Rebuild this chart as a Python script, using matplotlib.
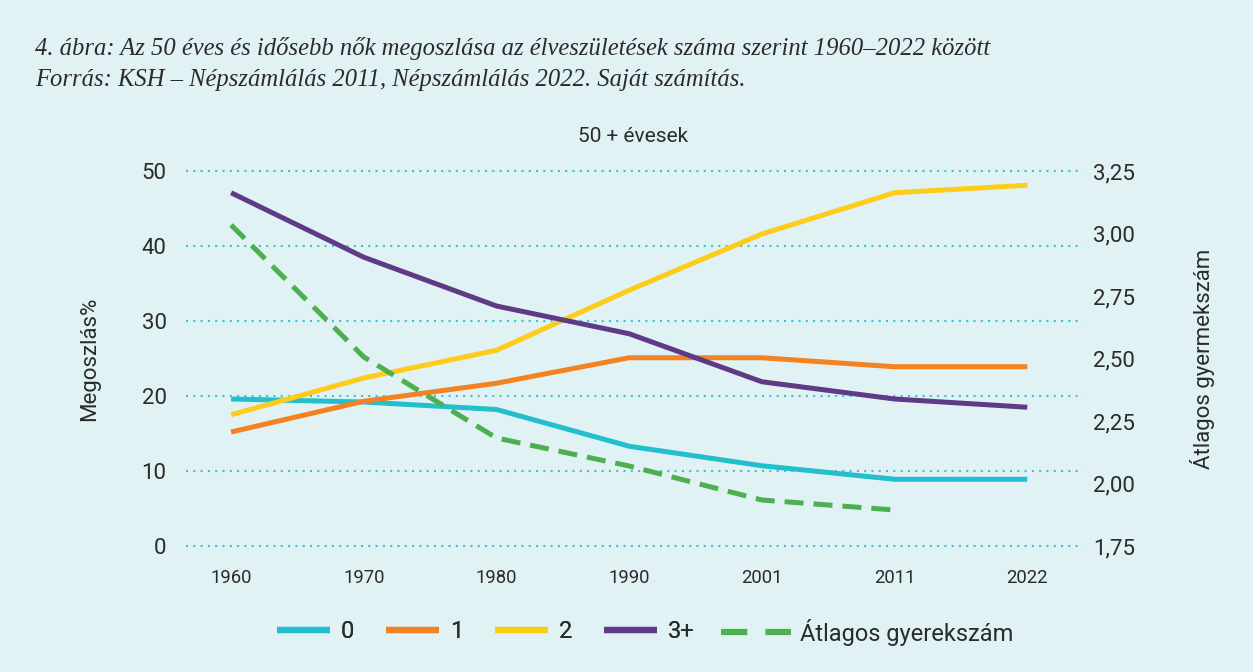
import matplotlib
matplotlib.use("Agg")
import matplotlib.pyplot as plt
from matplotlib.lines import Line2D
import numpy as np

years = ["1960", "1970", "1980", "1990", "2001", "2011", "2022"]
s0 = [19.6, 19.2, 18.2, 13.3, 10.7, 8.9, 8.9]
s1 = [15.2, 19.3, 21.7, 25.1, 25.1, 23.9, 23.9]
s2 = [17.5, 22.4, 26.1, 34.1, 41.6, 47.1, 48.1]
s3 = [47.1, 38.5, 32.0, 28.3, 21.9, 19.6, 18.5]
avg = [3.034, 2.506, 2.182, 2.07, 1.934, 1.894, np.nan]
labels = ["0", "1", "2", "3+", "Átlagos gyerekszám"]
left_ticks = [0, 10, 20, 30, 40, 50]
right_ticks = [1.75, 2.00, 2.25, 2.50, 2.75, 3.00, 3.25]

BG = "#e0f2f3"
TXT = "#2b2b2b"
colors = ["#22bfcc", "#f58220", "#ffcc19", "#5f3a86", "#4caf50"]
FONT = "Roboto"

W, H = 1253, 672
fig = plt.figure(figsize=(W / 100, H / 100), dpi=100, facecolor=BG)

# axes box in pixels
x0, x1 = 186, 1083
ytop, ybot = 167, 550
ax = fig.add_axes([x0 / W, 1 - ybot / H, (x1 - x0) / W, (ybot - ytop) / H])
ax.set_facecolor("none")
ax2 = ax.twinx()
ax2.set_facecolor("none")

x = np.arange(len(years))
lw = 3.6
for s, c in zip([s0, s1, s2, s3], colors[:4]):
    ax.plot(x, s, color=c, lw=lw, solid_capstyle="butt", solid_joinstyle="round", zorder=3)
ax2.plot(x, avg, color=colors[4], lw=lw, dashes=(3.8, 2.0), dash_capstyle="butt", zorder=3)

pad_units = 4 / 7.5
ax.set_ylim(0 - pad_units, 50 + pad_units)
ax2.set_ylim(1.75 - 4 / 250, 3.25 + 4 / 250)
ax.set_xlim(-0.34, 6.42)

ax.set_yticks(left_ticks)
ax.set_yticklabels([str(t) for t in left_ticks])
ax2.set_yticks(right_ticks)
ax2.set_yticklabels([f"{t:.2f}".replace(".", ",") for t in right_ticks])
ax.set_xticks(x)
ax.set_xticklabels(years)

for a in (ax, ax2):
    for sp in a.spines.values():
        sp.set_visible(False)
    a.tick_params(length=0, colors=TXT)

ax.tick_params(axis="y", labelsize=16, pad=14)
ax2.tick_params(axis="y", labelsize=16, pad=7)
ax.tick_params(axis="x", labelsize=13.3, pad=14)
for lab in ax.get_yticklabels() + ax.get_xticklabels() + ax2.get_yticklabels():
    lab.set_fontfamily(FONT)

ax.yaxis.grid(True, color="#3cc3d1", linestyle=(0, (1, 2.5)), lw=1.5)
ax.set_axisbelow(True)

ax.set_ylabel("Megoszlás%", fontsize=16, family=FONT, color=TXT, labelpad=30)
ax2.set_ylabel("Átlagos gyermekszám", fontsize=16, family=FONT, color=TXT, labelpad=40)

fig.text(633 / W, 1 - 137 / H, "50 + évesek", ha="center", va="center",
         fontsize=15, family=FONT, color=TXT)

fig.text(35 / W, 1 - 48 / H,
         "4. ábra: Az 50 éves és idősebb nők megoszlása az élveszületések száma szerint 1960–2022 között",
         ha="left", va="center", fontsize=17.7, family="Liberation Serif", style="italic", color=TXT)
fig.text(35 / W, 1 - 80 / H,
         "Forrás: KSH – Népszámlálás 2011, Népszámlálás 2022. Saját számítás.",
         ha="left", va="center", fontsize=17.7, family="Liberation Serif", style="italic", color=TXT)

# legends
h_solid = [Line2D([], [], color=c, lw=4.5, solid_capstyle="butt") for c in colors[:4]]
leg1 = fig.legend(h_solid, labels[:4], loc="center left", bbox_to_anchor=(277 / W, 1 - 632 / H),
                  ncol=4, frameon=False, handlelength=2.25, handletextpad=0.45, columnspacing=1.35,
                  borderpad=0, borderaxespad=0, prop={"family": FONT, "size": 17})
for t in leg1.get_texts():
    t.set_color(TXT)
h_dash = [Line2D([], [], color=colors[4], lw=4.5, dashes=(4.2, 2.9), dash_capstyle="butt")]
leg2 = fig.legend(h_dash, labels[4:], loc="center left", bbox_to_anchor=(721 / W, 1 - 632 / H),
                  frameon=False, handlelength=2.95, handletextpad=0.4,
                  borderpad=0, borderaxespad=0, prop={"family": FONT, "size": 17})
for t in leg2.get_texts():
    t.set_color(TXT)
fig.add_artist(leg1)

fig.savefig("out.png", dpi=100, facecolor=BG)
